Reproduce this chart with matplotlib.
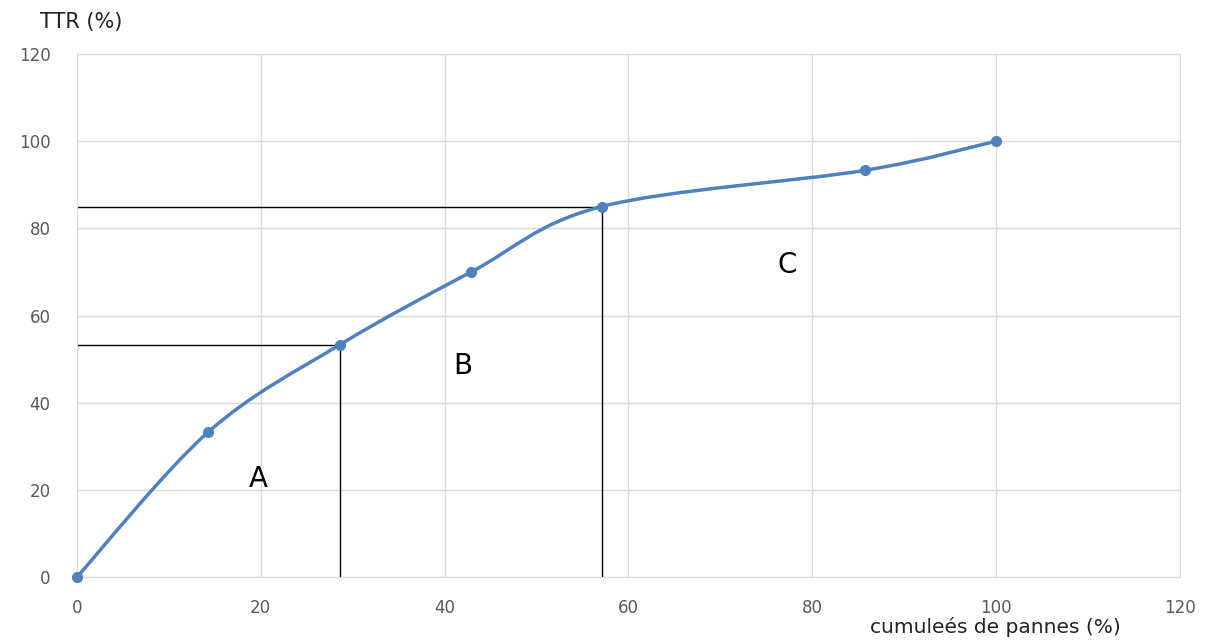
import matplotlib
matplotlib.use('Agg')
from matplotlib import pyplot as plt
from matplotlib.path import Path
from matplotlib.patches import PathPatch

# cumulative failures (%) vs cumulative TTR (%)
cum_pannes = [0, 14.3, 28.6, 42.9, 57.1, 85.7, 100]
cum_ttr = [0, 33.3, 53.3, 70.0, 85.0, 93.3, 100]

# ABC boundaries
limit_a = (28.6, 53.3)
limit_b = (57.1, 85.0)

zone_labels = ["A", "B", "C"]
zone_pos = [(19.7, 22.5), (42.0, 48.3), (77.3, 71.7)]

ticks = [0, 20, 40, 60, 80, 100, 120]

line_color = "#4f81bd"
grid_color = "#d9d9d9"
tick_color = "#595959"


def smooth_path(xs, ys, tension=0.5):
    # cubic bezier through every point (like a spreadsheet "smoothed line")
    verts = [(xs[0], ys[0])]
    codes = [Path.MOVETO]
    n = len(xs)
    for i in range(n - 1):
        x0, y0 = (xs[i - 1], ys[i - 1]) if i > 0 else (xs[i], ys[i])
        x1, y1 = xs[i], ys[i]
        x2, y2 = xs[i + 1], ys[i + 1]
        x3, y3 = (xs[i + 2], ys[i + 2]) if i + 2 < n else (x2, y2)
        c1 = (x1 + (x2 - x0) * tension / 3, y1 + (y2 - y0) * tension / 3)
        c2 = (x2 - (x3 - x1) * tension / 3, y2 - (y3 - y1) * tension / 3)
        verts += [c1, c2, (x2, y2)]
        codes += [Path.CURVE4] * 3
    return Path(verts, codes)


fig = plt.figure(figsize=(12.14, 6.41), dpi=100)
ax = fig.add_axes([0.0634, 0.0998, 0.9086, 0.816])

ax.set_xlim(0, 120)
ax.set_ylim(0, 120)
ax.set_xticks(ticks)
ax.set_yticks(ticks)
ax.grid(True, color=grid_color, linewidth=1)
ax.set_axisbelow(True)
for s in ax.spines.values():
    s.set_color(grid_color)
ax.tick_params(length=0, colors=tick_color, labelsize=12)
ax.tick_params(axis='x', pad=16)
ax.tick_params(axis='y', pad=19)

ax.add_patch(PathPatch(smooth_path(cum_pannes, cum_ttr), facecolor='none',
                       edgecolor=line_color, linewidth=2.5, zorder=3, clip_on=False))
ax.plot(cum_pannes, cum_ttr, linestyle='none', marker='o', markersize=7,
        color=line_color, zorder=4, clip_on=False)

# ABC limit lines
for lx, ly in (limit_a, limit_b):
    ax.plot([0, lx], [ly, ly], color='black', linewidth=1, zorder=2)
    ax.plot([lx, lx], [ly, 0], color='black', linewidth=1, zorder=2)

for lab, (tx, ty) in zip(zone_labels, zone_pos):
    ax.text(tx, ty, lab, fontsize=20, ha='center', va='center', color='black')

fig.text(40 / 1214, 1 - 22 / 641, "TTR (%)", fontsize=15, color='#222222',
         ha='left', va='center')
fig.text(870 / 1214, 1 - 627 / 641, "cumuleés de pannes (%)", fontsize=14.5,
         color='#222222', ha='left', va='center')

fig.savefig("out.png", dpi=100)
